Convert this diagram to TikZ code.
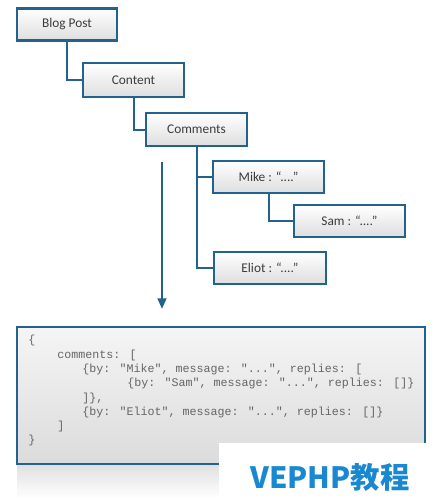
\documentclass[tikz,border=0pt]{standalone}
\usepackage{fontspec}
\setmainfont{Carlito}
\newfontfamily\codefont{Liberation Mono}
\newfontfamily\cjk{Noto Sans CJK SC}
\usetikzlibrary{arrows.meta,shadows}
\definecolor{boxblue}{HTML}{21628F}
\definecolor{txtgray}{HTML}{3C3C3C}
\definecolor{codegray}{HTML}{666666}
\definecolor{wmblue}{HTML}{1A88D0}
\tikzset{
  treebox/.style={draw=boxblue, line width=1.6pt, top color=white, bottom color=black!13,
    minimum height=24pt, inner sep=0pt, font=\fontsize{10}{12}\selectfont, text=txtgray,
    drop shadow={opacity=0.2, shadow xshift=0.8pt, shadow yshift=-1pt}},
  link/.style={draw=boxblue, line width=1.5pt},
  codeline/.style={anchor=west, inner sep=0pt, font=\codefont\fontsize{8.75}{10}\selectfont,
    text=codegray, text height=1.6ex, text depth=0.4ex},
  codebox/.style={draw=boxblue, line width=1.3pt, top color=black!4, bottom color=black!14,
    inner sep=0pt, minimum width=306pt, minimum height=102.75pt}
}
\begin{document}
\begin{tikzpicture}[x=0.75pt,y=-0.75pt]
\useasboundingbox (0,0) rectangle (442,504);
\fill[white] (0,0) rectangle (442,504);
% tree
\node[treebox, minimum width=75pt, minimum height=24pt] (blog) at (67,24.5) {Blog Post};
\node[treebox, minimum width=75.75pt, minimum height=25.5pt] (content) at (133.5,80) {Content};
\node[treebox, minimum width=75.75pt, minimum height=24.75pt] (comments) at (196.5,129.5) {Comments};
\node[treebox, minimum width=83.25pt] (mike) at (268.5,177) {Mike : “....”};
\node[treebox, minimum width=83.25pt] (sam) at (349.5,221) {Sam : “....”};
\node[treebox, minimum width=84pt] (eliot) at (270,268) {Eliot : “....”};
\draw[link] (blog.south) |- (content.west);
\draw[link] (content.south) |- (comments.west);
\draw[link] (comments.south) |- (mike.west);
\draw[link] (comments.south) |- (eliot.west);
\draw[link] (mike.south) |- (sam.west);
% arrow
\coordinate (a1) at (162,162);
\coordinate (a2) at (162,309);
\draw[boxblue, line width=1.8pt, -{Triangle[length=8pt,width=6.5pt]}] (a1) -- (a2);
% reflection below code box
\shade[top color=black!12, bottom color=white] (17,465) rectangle (425,498);
% code box
\node[codebox] (code) at (221,395.5) {};
\node[codeline] (c1) at (28,340) {\{};
\node[codeline] (c2) at (57,354.3) {comments: [};
\node[codeline] (c3) at (82,368.6) {\{by: "Mike", message: "...", replies: [};
\node[codeline] (c4) at (127,382.9) {\{by: "Sam", message: "...", replies: []\}};
\node[codeline] (c5) at (82,397.2) {]\},};
\node[codeline] (c6) at (82,411.5) {\{by: "Eliot", message: "...", replies: []\}};
\node[codeline] (c7) at (57,425.8) {]};
\node[codeline] (c8) at (28,440.1) {\}};
% watermark
\fill[white] (219,443) rectangle (442,504);
\node[inner sep=0pt, text=wmblue, font=\cjk\bfseries\fontsize{22}{24}\selectfont] (wm) at (330,477) {VEPHP教程};
\end{tikzpicture}
\end{document}
